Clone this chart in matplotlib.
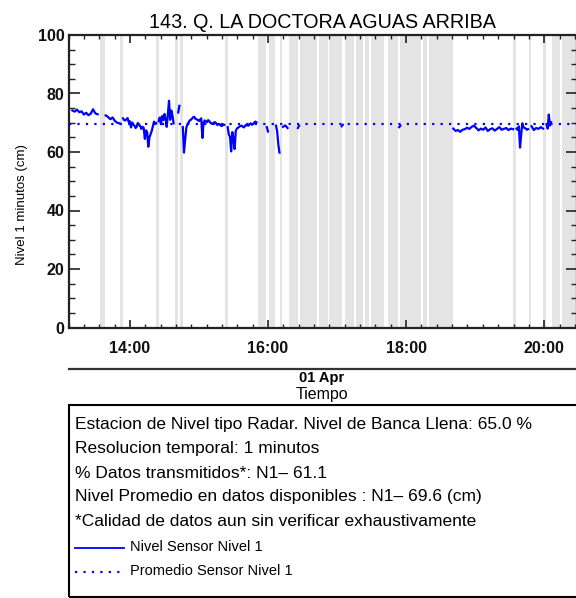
import numpy as np
import matplotlib
matplotlib.use("Agg")
import matplotlib.pyplot as plt
from matplotlib.lines import Line2D

plt.rcParams["font.family"] = ["Liberation Sans", "DejaVu Sans"]

# DATA (time in minutes after 13:00, level in cm)
TITLE = "143. Q. LA DOCTORA AGUAS ARRIBA"
MEAN_LEVEL = 69.6

# segments of available data: (start minute, step in minutes, values)
SEGMENTS = [
    (10, 2, [74.2, 73.8, 74.5, 73.6, 73.9, 72.8, 73.4, 72.6, 73.1, 74.6, 73.2, 72.9]),
    (39, 2, [72.5, 72.0, 71.2, 71.8, 70.6, 70.0, 69.8]),
    (54, 1, [71.5, 70.9, 70.8, 71.2, 71.6, 70.2, 70.5, 68.4, 70.1, 69.4, 69.0, 68.2, 68.7, 69.9,
             69.4, 68.8, 67.9, 68.6, 68.3, 64.5, 67.4, 66.8, 61.8, 65.0, 66.1, 67.2, 68.9, 70.4,
             69.6, 69.8]),
    (85, 1, [70.6, 71.8, 69.5, 72.3, 70.9, 73.0, 71.2, 68.6, 72.8, 77.5, 71.0, 74.2, 72.5, 69.8]),
    (102, 1, [73.5, 75.8]),
    (106, 1, [68.5, 59.8, 64.0, 68.2, 69.5, 70.1, 70.8, 71.0, 71.4, 71.9, 72.0, 71.3, 71.2,
              70.9, 70.6, 71.1, 71.5, 64.8, 70.0, 70.8, 70.4, 70.2, 70.9, 70.5, 70.0, 69.7,
              69.6, 70.1, 70.2, 69.8, 69.2, 69.6, 69.5, 69.0, 68.9, 69.4, 69.3]),
    (145, 1, [68.5, 66.0, 65.2, 60.2, 66.8, 64.5, 61.0, 67.2, 68.0, 68.3, 68.6, 68.9, 69.0,
              68.7, 68.4, 68.9, 69.3, 69.1, 69.0, 69.5, 69.8, 69.3, 69.5, 70.0, 70.4, 70.1]),
    (179, 1, [68.5, 67.0]),
    (187, 1, [69.0, 67.0, 62.5, 59.8]),
    (193, 2, [68.6, 69.1, 68.2]),
    (206, 1, [68.2, 69.0]),
    (244, 1, [68.8, 69.3]),
    (294, 1, [68.5, 69.0]),
    (341, 2, [68.0, 67.2, 67.5, 66.9, 67.6, 67.8, 68.3, 67.9, 68.6, 69.0, 68.2, 67.4, 68.0,
              67.6, 68.4, 67.2, 67.8, 68.1, 67.3, 67.9, 68.5, 67.6, 67.9, 68.2, 67.5, 68.0, 67.8]),
    (396, 1, [68.0, 67.5, 68.8, 61.5, 66.0, 69.8, 68.5, 68.2, 68.0, 67.6, 67.8]),
    (409, 2, [68.8, 67.5, 68.2, 67.9, 68.5, 68.0]),
    (422, 1, [69.5, 68.0, 72.8, 69.0, 70.2]),
]

# missing data periods (start, end minute)
GAPS = [(33.8, 38.6), (51.4, 54.0), (82.9, 85.0), (98.8, 101.4), (103.8, 105.8),
        (142.9, 145.2), (171.4, 178.3), (180.9, 186.0), (190.4, 192.0), (198.0, 205.9),
        (207.6, 222.3), (224.0, 231.8), (232.7, 243.9), (246.5, 255.1), (256.8, 262.9),
        (264.6, 268.0), (269.8, 281.0), (284.5, 293.1), (294.8, 313.0), (314.7, 318.1),
        (319.9, 340.6), (393.0, 395.8), (407.0, 408.8), (419.0, 421.7), (426.9, 433.8),
        (435.5, 449.0)]

MAJOR_TICKS = [60, 180, 300, 420]
MAJOR_LABELS = ["14:00", "16:00", "18:00", "20:00"]
DATE_LABEL = "01 Apr"
INFO_LINES = [
    "Estacion de Nivel tipo Radar. Nivel de Banca Llena: 65.0 %",
    "Resolucion temporal: 1 minutos",
    "% Datos transmitidos*: N1\u2013 61.1",
    "Nivel Promedio en datos disponibles : N1\u2013 69.6 (cm)",
    "*Calidad de datos aun sin verificar exhaustivamente",
]
LEGEND_LABELS = ["Nivel Sensor Nivel 1", "Promedio Sensor Nivel 1"]

W, H = 576, 598
fig = plt.figure(figsize=(W / 100, H / 100), dpi=100)


def fx(px):
    return px / W


def fy(py):
    return 1 - py / H


ax = fig.add_axes([fx(68.5), fy(327.5), fx(577 - 68.5), (327.5 - 35) / H])
ax.set_xlim(9.5, 448.5)
ax.set_ylim(0, 100)

for g0, g1 in GAPS:
    ax.axvspan(g0, g1, color="#e4e4e4", lw=0, zorder=0)

for start, step, vals in SEGMENTS:
    t = start + step * np.arange(len(vals))
    ax.plot(t, vals, color="#0000ff", lw=1.6, zorder=3)

ax.axhline(MEAN_LEVEL, color="#0000ff", lw=1.6, linestyle=(0, (1, 2.8)), zorder=4)

# axes styling
for s in ax.spines.values():
    s.set_linewidth(1.6)
    s.set_color("#222222")
ax.set_xticks(MAJOR_TICKS, labels=MAJOR_LABELS)
minor = [60 + k * 40 / 3 for k in range(-4, 30)]
ax.set_xticks(minor, minor=True)
ax.set_yticks(range(0, 101, 20))
ax.set_yticks(range(0, 101, 5), minor=True)
ax.tick_params(axis="both", which="both", direction="in", top=True, right=True,
               color="#222222")
ax.tick_params(axis="x", which="major", length=6, width=1.2, pad=10)
ax.tick_params(axis="x", which="minor", length=3, width=1.0)
ax.tick_params(axis="y", which="major", length=8, width=1.2, pad=3)
ax.tick_params(axis="y", which="minor", length=4, width=1.0)
for lab in ax.get_xticklabels() + ax.get_yticklabels():
    lab.set_fontsize(11.5)
    lab.set_fontweight("bold")
    lab.set_color("#111111")

ax.set_ylabel("Nivel 1 minutos (cm)", fontsize=9.5)
ax.yaxis.set_label_coords((28 - 68.5) / (577 - 68.5), 0.42)
ax.set_title(TITLE, fontsize=14.2, pad=5)

# date separator and labels
fig.add_artist(Line2D([fx(68.5), fx(580)], [fy(369), fy(369)], color="#333333", lw=1.6))
fig.text(fx(322), fy(378), DATE_LABEL, ha="center", va="center", fontsize=10.5,
         fontweight="bold")
fig.text(fx(322), fy(394), "Tiempo", ha="center", va="center", fontsize=11.5)

# info box
box = plt.Rectangle((fx(69), fy(597)), fx(600 - 69), (597 - 405) / H, transform=fig.transFigure,
                    fill=False, ec="black", lw=1.5)
fig.add_artist(box)
for i, line in enumerate(INFO_LINES):
    fig.text(fx(75), fy(425 + 24 * i), line, ha="left", va="center", fontsize=12.5)

fig.add_artist(Line2D([fx(75), fx(124)], [fy(548), fy(548)], color="#0000ff", lw=1.3))
fig.text(fx(130), fy(547), LEGEND_LABELS[0], ha="left", va="center", fontsize=10.5)
fig.add_artist(Line2D([fx(75), fx(124)], [fy(572), fy(572)], color="#0000ff", lw=1.6,
                      linestyle=(0, (1, 2.8))))
fig.text(fx(130), fy(571), LEGEND_LABELS[1], ha="left", va="center", fontsize=10.5)

fig.savefig("out.png", dpi=100)
